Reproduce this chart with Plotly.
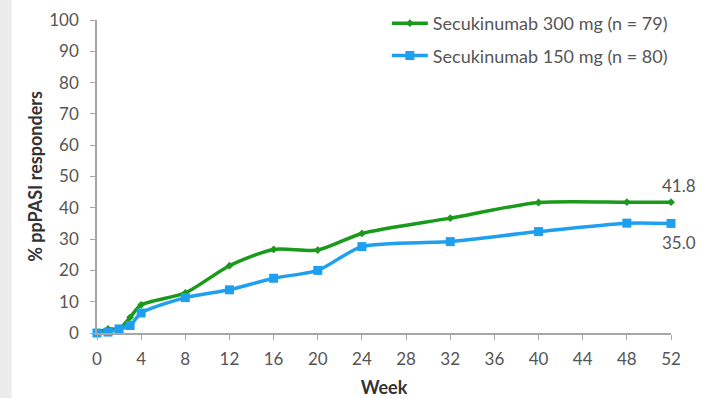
import plotly.graph_objects as go

weeks = [0, 1, 2, 3, 4, 8, 12, 16, 20, 24, 32, 40, 48, 52]
sec300 = [0.0, 1.3, 1.3, 5.0, 9.0, 12.8, 21.5, 26.7, 26.5, 31.8, 36.7, 41.7, 41.8, 41.8]
sec150 = [0.0, 0.3, 1.3, 2.4, 6.4, 11.3, 13.8, 17.5, 20.0, 27.6, 29.2, 32.4, 35.1, 35.0]
name300 = "Secukinumab 300 mg (n = 79)"
name150 = "Secukinumab 150 mg (n = 80)"
x_ticks = list(range(0, 53, 4))
y_ticks = list(range(0, 101, 10))

GREEN = "#1a9a1a"
BLUE = "#1f9ff0"
FONT = "Lato"
TXT = "#555555"

fig = go.Figure()
fig.add_trace(go.Scatter(
    x=weeks, y=sec300, name=name300, mode="lines+markers",
    line=dict(color=GREEN, width=3.5, shape="spline", smoothing=0.7),
    marker=dict(symbol="diamond", size=6, color=GREEN),
    cliponaxis=False, legendgroup="a"))
fig.add_trace(go.Scatter(
    x=weeks, y=sec150, name=name150, mode="lines+markers",
    line=dict(color=BLUE, width=3.5, shape="spline", smoothing=0.7),
    marker=dict(symbol="square", size=9, color=BLUE),
    cliponaxis=False, legendgroup="b"))

fig.add_annotation(x=weeks[-1], y=sec300[-1], text=f"{sec300[-1]:.1f}", showarrow=False,
                   xshift=8, yshift=17, font=dict(family=FONT, size=17, color=TXT))
fig.add_annotation(x=weeks[-1], y=sec150[-1], text=f"{sec150[-1]:.1f}", showarrow=False,
                   xshift=8, yshift=-19, font=dict(family=FONT, size=17, color=TXT))

fig.add_shape(type="rect", xref="paper", yref="paper", x0=-0.2, x1=-0.149, y0=-1, y1=2,
              fillcolor="#ebebeb", line=dict(width=0), layer="below")

fig.update_layout(
    width=710, height=398,
    margin=dict(l=97, r=39, t=0, b=65),
    paper_bgcolor="white", plot_bgcolor="white",
    font=dict(family=FONT, size=17, color=TXT),
    showlegend=True,
    legend=dict(x=0.505, y=0.985, xanchor="left", yanchor="top",
                bgcolor="rgba(0,0,0,0)", tracegroupgap=6, itemwidth=36,
                font=dict(family=FONT, size=18, color=TXT)),
    xaxis=dict(range=[0, 52], tickvals=x_ticks, showgrid=False, zeroline=False,
               automargin=False,
               showline=True, linecolor="#a6a6a6", linewidth=1.5,
               ticks="outside", ticklen=5, tickcolor="#a6a6a6", ticklabelstandoff=5,
               tickfont=dict(family=FONT, size=17, color=TXT),
               title=dict(text="<b>Week</b>", standoff=14,
                          font=dict(family=FONT, size=18, color="#333333"))),
    yaxis=dict(range=[0, 100], tickvals=y_ticks, showgrid=False, zeroline=False,
               automargin=False, domain=[0, 313 / 333],
               showline=True, linecolor="#a6a6a6", linewidth=1.5,
               ticks="outside", ticklen=5, tickcolor="#a6a6a6", ticklabelstandoff=8,
               tickfont=dict(family=FONT, size=17, color=TXT),
               title=dict(text="<b>% ppPASI responders</b>", standoff=2,
                          font=dict(family=FONT, size=18, color="#333333"))),
)

fig.write_html("out.html", config={"displayModeBar": False},
               post_script="document.body.style.margin='0';document.body.style.overflow='hidden';")
